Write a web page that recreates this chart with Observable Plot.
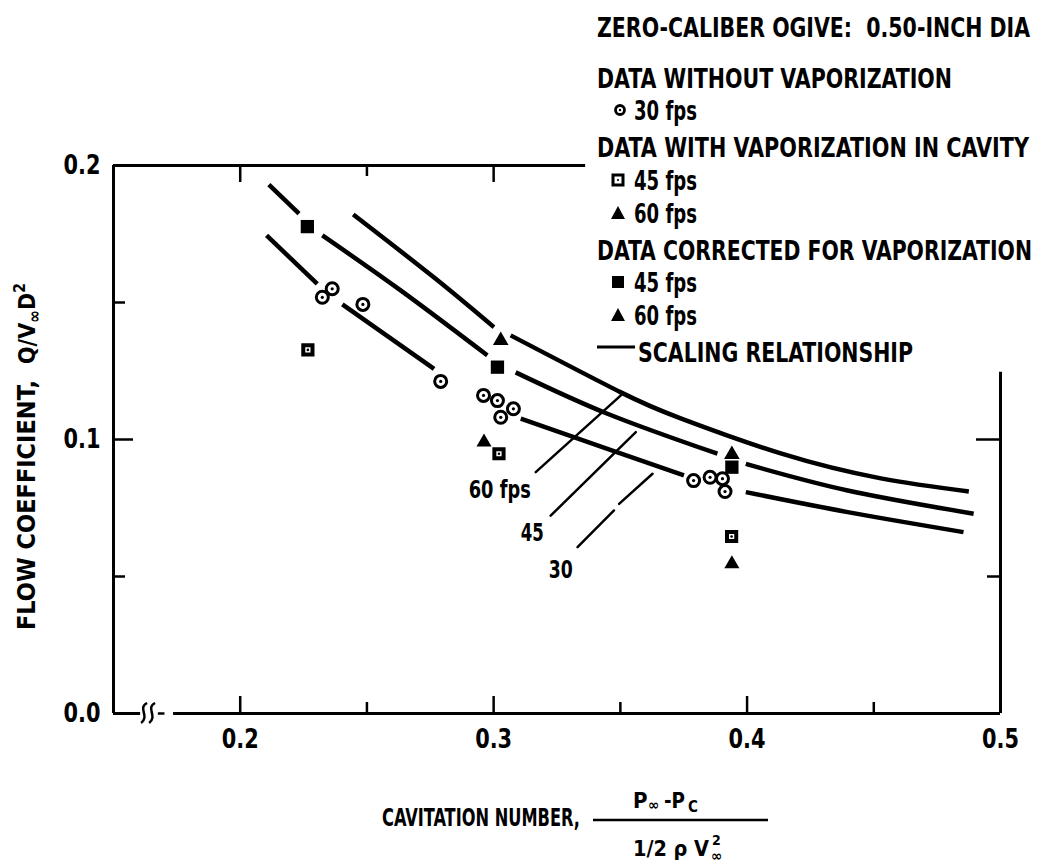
<!DOCTYPE html>
<html><head><meta charset="utf-8">
<script src="https://cdn.jsdelivr.net/npm/d3@7"></script>
<script src="https://cdn.jsdelivr.net/npm/@observablehq/plot@0.6"></script>
<style>
html,body{margin:0;padding:0;background:#fff;}
#chart{position:relative;width:1045px;height:865px;overflow:hidden;}
svg text{font-family:"Liberation Sans Narrow","DejaVu Sans Condensed","Roboto Condensed","Liberation Sans",sans-serif;font-weight:bold;}
</style></head><body><div id="chart"></div>
<script>
// ---- axis ticks ----
const xTicks = [0.2, 0.3, 0.4, 0.5];
const yTicks = [0.0, 0.1, 0.2];
const xMajorTickMarks = [0.2, 0.3, 0.4];
const xMinorTickMarks = [0.25, 0.35, 0.45];
const xTopMajor = [0.2, 0.3];
const xTopMinor = [0.25];
const yMajorTickMarks = [0.1];
const yMinorTickMarks = [0.05, 0.15];
const yRightMinor = [0.05];
const xDomain = [0.15, 0.5];
const yDomain = [0, 0.2];
const axisBreak = [0.1607, 0.1737];

// ---- scaling relationship curves: [segment, cavitation number, flow coefficient] ----
const scaling60 = [
  ["a",0.2446,0.1821],["a",0.2765,0.1591],["a",0.3001,0.1410],
  ["b",0.3067,0.1380],["b",0.3502,0.1172],["b",0.3738,0.1077],["b",0.4133,0.0949],["b",0.4528,0.0858],["b",0.4875,0.0810]
];
const scaling45 = [
  ["a",0.2113,0.1930],["a",0.2232,0.1824],
  ["b",0.2324,0.1745],["b",0.2633,0.1544],["b",0.2975,0.1307],
  ["c",0.3087,0.1245],["c",0.3449,0.1094],["c",0.3883,0.0948],
  ["d",0.3995,0.0911],["d",0.4397,0.0814],["d",0.4894,0.0729]
];
const scaling30 = [
  ["a",0.2104,0.1745],["a",0.2304,0.1568],
  ["b",0.2403,0.1493],["b",0.2765,0.1258],
  ["c",0.3107,0.1076],["c",0.3449,0.0966],["c",0.3751,0.0869],
  ["d",0.3995,0.0808],["d",0.4397,0.0735],["d",0.4854,0.0662]
];

// ---- data points: [cavitation number, flow coefficient] ----
const noVapor30 = [
  [0.2324,0.1519],[0.2363,0.1550],[0.2484,0.1493],[0.2791,0.1212],
  [0.2960,0.1161],[0.3015,0.1142],[0.3078,0.1112],[0.3028,0.1081],
  [0.3789,0.0850],[0.3854,0.0862],[0.3903,0.0857],[0.3913,0.0810]
];
const vapor45 = [[0.2267,0.1327],[0.3021,0.0948],[0.3939,0.0646]];
const vapor60 = [[0.2962,0.0990],[0.3940,0.0546]];
const corrected45 = [[0.2265,0.1777],[0.3015,0.1264],[0.3940,0.0899]];
const corrected60 = [[0.3028,0.1361],[0.3940,0.0945]];

// ---- curve labels and leader lines ----
const fpsLabels = [["60 fps",0.3024,0.0788],["45",0.3152,0.0631],["30",0.3265,0.0493]];
const fpsLabelWidths = {"60 fps":62, "45":23, "30":24};
const leaders = [
  ["60",0.3166,0.0881],["60",0.3502,0.1161],
  ["45",0.3225,0.0722],["45",0.3561,0.1027],
  ["30a",0.3331,0.0607],["30a",0.3475,0.0741],
  ["30b",0.3495,0.0765],["30b",0.3627,0.0875]
];

// ---- legend ----
const legendTitle = "ZERO-CALIBER OGIVE:  0.50-INCH DIA";
const legendRows = [
  {kind:"head", text:"DATA WITHOUT VAPORIZATION"},
  {kind:"circle", text:"30 fps"},
  {kind:"head", text:"DATA WITH VAPORIZATION IN CAVITY"},
  {kind:"opensquare", text:"45 fps"},
  {kind:"triangle", text:"60 fps"},
  {kind:"head", text:"DATA CORRECTED FOR VAPORIZATION"},
  {kind:"square", text:"45 fps"},
  {kind:"triangle", text:"60 fps"},
  {kind:"line", text:"SCALING RELATIONSHIP"}
];

const W = 1045, H = 865;
const mL = 113, mR = 45, mT = 165, mB = 152;
const pw = W - mL - mR, ph = H - mT - mB;
const X = d => d[1], Y = d => d[2];
const PX = d => d[0], PY = d => d[1];
const lineOpts = {x:X, y:Y, z:d=>d[0], curve:"natural", stroke:"black", strokeWidth:4.5, strokeLinecap:"butt"};

const plot = Plot.plot({
  width: W, height: H,
  marginLeft: mL, marginRight: mR, marginTop: mT, marginBottom: mB,
  x: {domain: xDomain},
  y: {domain: yDomain},
  style: {background:"white", color:"black"},
  marks: [
    // frame
    Plot.ruleX([xDomain[0]], {stroke:"black", strokeWidth:3}),
    Plot.ruleY([yDomain[1]], {x1:xDomain[0], x2:0.3363, stroke:"black", strokeWidth:3}),
    Plot.ruleX([xDomain[1]], {y1:yDomain[0], y2:0.1245, stroke:"black", strokeWidth:3}),
    Plot.ruleY([0], {x1:xDomain[0], x2:axisBreak[0], stroke:"black", strokeWidth:3}),
    Plot.ruleY([0], {x1:0.1677, x2:0.1703, stroke:"black", strokeWidth:2.5}),
    Plot.ruleY([0], {x1:axisBreak[1], x2:xDomain[1], stroke:"black", strokeWidth:3}),
    // inward ticks
    Plot.tickX(xMajorTickMarks, {insetTop: ph-17, stroke:"black", strokeWidth:2.5}),
    Plot.tickX(xMinorTickMarks, {insetTop: ph-11, stroke:"black", strokeWidth:2.5}),
    Plot.tickX(xTopMajor, {insetBottom: ph-17, stroke:"black", strokeWidth:2.5}),
    Plot.tickX(xTopMinor, {insetBottom: ph-11, stroke:"black", strokeWidth:2.5}),
    Plot.tickY(yMajorTickMarks, {insetRight: pw-20, stroke:"black", strokeWidth:2.5}),
    Plot.tickY(yMinorTickMarks, {insetRight: pw-12, stroke:"black", strokeWidth:2.5}),
    Plot.tickY(yMajorTickMarks, {insetLeft: pw-24, stroke:"black", strokeWidth:2.5}),
    Plot.tickY(yRightMinor, {insetLeft: pw-13, stroke:"black", strokeWidth:2.5}),
    // tick labels
    Plot.axisX({anchor:"bottom", ticks:xTicks, tickSize:0, tickPadding:15, tickFormat:d=>d.toFixed(1), fontSize:27, fontWeight:"bold", label:null, className:"ticklab"}),
    Plot.axisY({anchor:"left", ticks:yTicks, tickSize:0, tickPadding:13, tickFormat:d=>d.toFixed(1), fontSize:27, fontWeight:"bold", label:null, className:"ticklab"}),
    // scaling relationship curves
    Plot.line(scaling60, lineOpts),
    Plot.line(scaling45, lineOpts),
    Plot.line(scaling30, lineOpts),
    // leader lines and labels
    Plot.line(leaders, {x:X, y:Y, z:d=>d[0], stroke:"black", strokeWidth:2.5}),
    Plot.text(fpsLabels, {x:X, y:Y, text:d=>d[0], fontSize:24, fontWeight:"bold", lineAnchor:"bottom", textAnchor:"middle", className:"fpslab"}),
    // data
    Plot.dot(noVapor30, {x:PX, y:PY, r:6, stroke:"black", strokeWidth:3, fill:"white"}),
    Plot.dot(noVapor30, {x:PX, y:PY, r:1.6, fill:"black"}),
    Plot.dot(vapor45, {x:PX, y:PY, symbol:"square", r:5.2, stroke:"black", strokeWidth:4, fill:"white"}),
    Plot.dot(vapor45, {x:PX, y:PY, r:1.3, fill:"black"}),
    Plot.dot(vapor60, {x:PX, y:PY, symbol:"triangle", r:5.6, fill:"black"}),
    Plot.dot(corrected45, {x:PX, y:PY, symbol:"square", r:7.5, fill:"black"}),
    Plot.dot(corrected60, {x:PX, y:PY, symbol:"triangle", r:5.8, fill:"black"})
  ]
});
document.getElementById("chart").appendChild(plot);

const svg = d3.select(plot);
const xs = plot.scale("x"), ys = plot.scale("y");

// squeeze tick labels and curve labels to the narrow lettering of the original
svg.selectAll(".ticklab text").attr("textLength", 37).attr("lengthAdjust","spacingAndGlyphs");
svg.selectAll(".fpslab text").each(function(){
  const t = d3.select(this).text();
  d3.select(this).attr("textLength", fpsLabelWidths[t]).attr("lengthAdjust","spacingAndGlyphs");
});

// axis break squiggle
const bx = xs.apply(axisBreak[0]) + 3, by = ys.apply(0);
[0, 8].forEach(o => {
  svg.append("path")
    .attr("d", `M${bx+o+4},${by-10} C${bx+o-6},${by-5} ${bx+o+7},${by+3} ${bx+o-2},${by+10}`)
    .attr("fill","none").attr("stroke","black").attr("stroke-width",2.5);
});

// legend: tall narrow lettering = smaller font stretched vertically
const lg = svg.append("g").attr("font-weight","bold").attr("fill","black").attr("text-anchor","start");
function tallText(x, y, len, str) {
  lg.append("text").attr("transform", `translate(${x},${y}) scale(1,1.2)`)
    .attr("font-size", 22.5).attr("textLength", len).attr("lengthAdjust","spacingAndGlyphs").text(str);
}
tallText(597, 37, 433, legendTitle);
const rowY = [88,120,157,190,223,260,292,325,362];
const headLen = {"DATA WITHOUT VAPORIZATION":355, "DATA WITH VAPORIZATION IN CAVITY":432, "DATA CORRECTED FOR VAPORIZATION":435};
legendRows.forEach((r,i) => {
  const y = rowY[i];
  if (r.kind === "head") { tallText(597, y, headLen[r.text], r.text); return; }
  const cy = y - 10, cx = 618;
  if (r.kind === "circle") {
    lg.append("circle").attr("cx",cx+2).attr("cy",cy).attr("r",4.5).attr("fill","white").attr("stroke","black").attr("stroke-width",2.8);
    lg.append("circle").attr("cx",cx+2).attr("cy",cy).attr("r",1.2).attr("fill","black");
  } else if (r.kind === "opensquare") {
    lg.append("rect").attr("x",cx-5).attr("y",cy-5).attr("width",10).attr("height",10).attr("fill","white").attr("stroke","black").attr("stroke-width",3);
    lg.append("circle").attr("cx",cx).attr("cy",cy).attr("r",1.1).attr("fill","black");
  } else if (r.kind === "square") {
    lg.append("rect").attr("x",cx-6).attr("y",cy-6).attr("width",12).attr("height",12).attr("fill","black");
  } else if (r.kind === "triangle") {
    lg.append("path").attr("d",`M${cx},${cy-7} L${cx+7},${cy+6} L${cx-7},${cy+6} Z`).attr("fill","black");
  } else if (r.kind === "line") {
    lg.append("line").attr("x1",597).attr("x2",635).attr("y1",y-15).attr("y2",y-15).attr("stroke","black").attr("stroke-width",3);
    tallText(638, y, 275, r.text);
    return;
  }
  tallText(634, y, 63, r.text);
});

// y-axis title (rotated)
const yt = svg.append("g").attr("font-weight","bold").attr("text-anchor","start");
yt.append("text").attr("transform","translate(35,630) rotate(-90)").attr("font-size",24)
  .attr("textLength",250).attr("lengthAdjust","spacingAndGlyphs").text("FLOW COEFFICIENT,");
const q = yt.append("text").attr("transform","translate(35,364) rotate(-90)").attr("font-size",23);
q.append("tspan").text("Q/V");
q.append("tspan").attr("font-size",17).attr("dy",5).text("∞");
q.append("tspan").attr("dy",-5).text("D");
q.append("tspan").attr("font-size",16).attr("dy",-10).text("2");

// x-axis title with fraction
const xt = svg.append("g").attr("font-weight","bold").attr("text-anchor","start");
xt.append("text").attr("x",382).attr("y",826).attr("font-size",25).attr("textLength",198).attr("lengthAdjust","spacingAndGlyphs").text("CAVITATION NUMBER,");
xt.append("line").attr("x1",593).attr("x2",768).attr("y1",820).attr("y2",820).attr("stroke","black").attr("stroke-width",2.5);
// numerator  P∞ - Pc  (separate pieces so sub/superscripts sit cleanly)
xt.append("text").attr("x",633).attr("y",808).attr("font-size",22).text("P");
xt.append("text").attr("x",648).attr("y",810).attr("font-size",15).text("∞");
xt.append("text").attr("x",664).attr("y",808).attr("font-size",22).attr("textLength",21).attr("lengthAdjust","spacingAndGlyphs").text("-P");
xt.append("text").attr("x",688).attr("y",812).attr("font-size",15).text("C");
// denominator  1/2 ρ V∞²
xt.append("text").attr("x",633).attr("y",856).attr("font-size",22).attr("textLength",76).attr("lengthAdjust","spacingAndGlyphs").text("1/2 ρ V");
xt.append("text").attr("x",712).attr("y",845).attr("font-size",14).text("2");
xt.append("text").attr("x",711).attr("y",861).attr("font-size",15).text("∞");
</script></body></html>
